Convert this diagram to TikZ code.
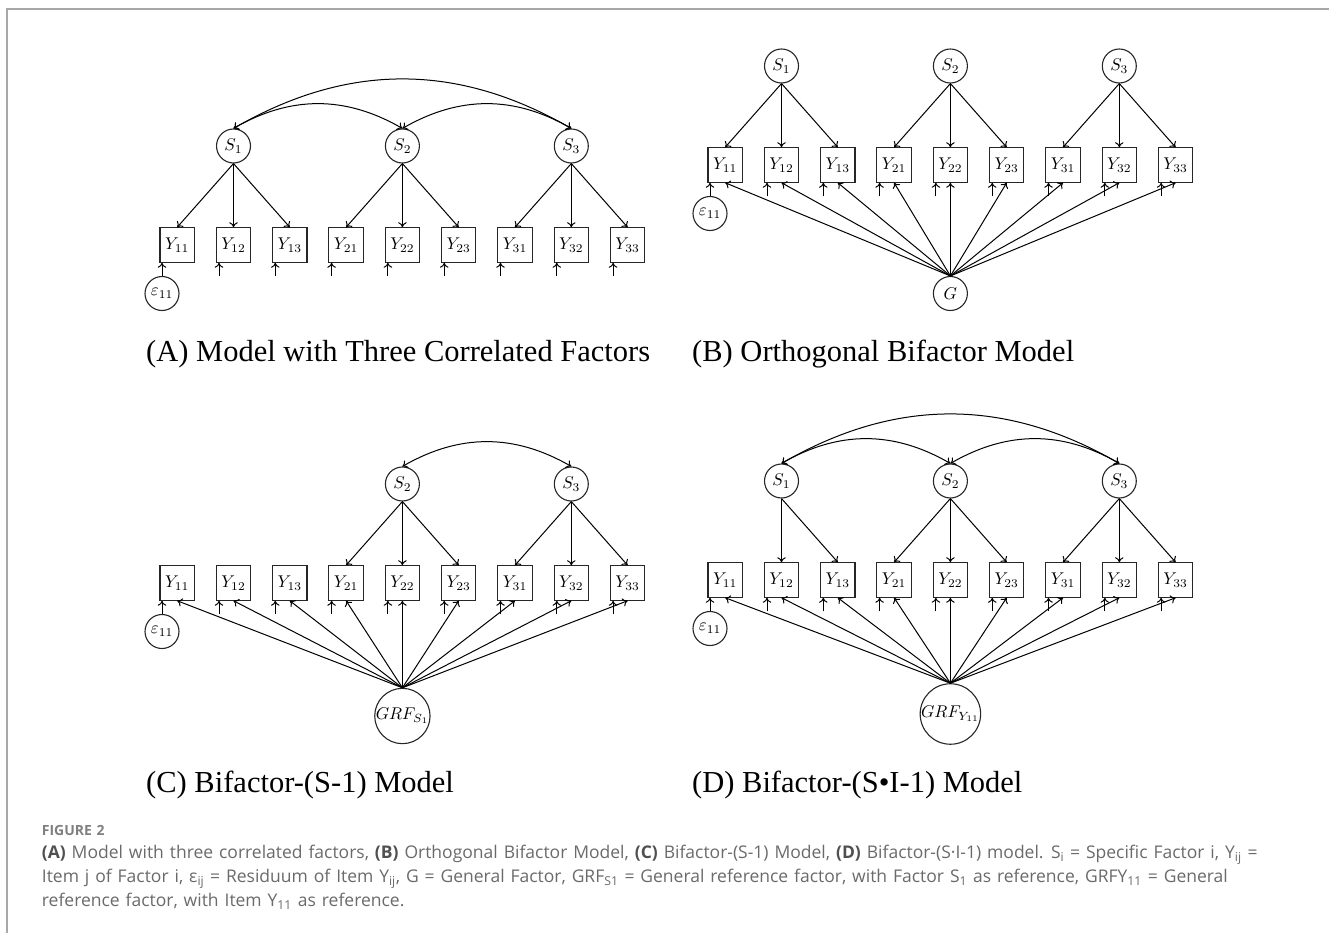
\documentclass[tikz,border=0pt]{standalone}
\usepackage{fontspec}
\newfontfamily\titlefont{Liberation Serif}
\newfontfamily\capfont[WordSpace=1.3]{Open Sans}
\usetikzlibrary{arrows.meta,calc}
\definecolor{capgrey}{HTML}{6A6A6A}
\definecolor{capdark}{HTML}{505050}
\definecolor{framegrey}{HTML}{A8A8A8}
\newcommand\capsb[1]{\textsubscript{#1}}
\newcommand\mlbl[1]{\scalebox{1.7}{$#1$}}
\begin{document}
\begin{tikzpicture}[x=1pt,y=-1pt,
  >={To[length=5pt,width=8.5pt]},
  obs/.style={draw=black!85, line width=1.1pt, minimum size=34.4pt, inner sep=0pt},
  lat/.style={draw=black!85, circle, line width=1.1pt, minimum size=34pt, inner sep=0pt},
  biglat/.style={lat, minimum size=52pt},
  pth/.style={->, line width=1pt},
  cor/.style={<->, line width=1pt},
  ttl/.style={anchor=base west, inner sep=0pt, font=\titlefont\fontsize{30.5}{36}\selectfont},
  capline/.style={anchor=base west, inner sep=0pt, text=capgrey, font=\capfont\fontsize{17.5}{22}\selectfont}
]
\useasboundingbox (0,0) rectangle (1329,933);
\draw[framegrey, line width=1.5pt] (7,933) -- (7,9) -- (1329,9);

% ---------- boxes, residuals for all four panels
\foreach \p/\xo/\yb in {A/177.2/245, B/725.2/165, C/177.2/583, D/725.2/580}{
  \foreach \i in {1,2,3}{
    \foreach \j in {1,2,3}{
      \pgfmathsetmacro\xx{\xo+56.3*(3*(\i-1)+\j-1)}
      \node[obs] (\p\i\j) at (\xx,\yb) {\mlbl{Y_{\i\j}}};
    }
  }
  \node[lat] (eps\p) at ($(\p11.center)+(-15.2,48.5)$) {\mlbl{\varepsilon_{11}}};
  \draw[pth] (eps\p) -- (eps\p |- \p11.south);
  \foreach \k in {12,13,21,22,23,31,32,33}{
    \coordinate (err\p\k) at ($(\p\k.south)+(-14.5,13.7)$);
    \draw[pth] (err\p\k) -- (err\p\k |- \p\k.south);
  }
}

% ---------- specific factors
\foreach \p/\ys in {A/146, B/66, D/481}{
  \node[lat] (\p S1) at (\p12.center |- 0,\ys) {\mlbl{S_1}};
  \node[lat] (\p S2) at (\p22.center |- 0,\ys) {\mlbl{S_2}};
  \node[lat] (\p S3) at (\p32.center |- 0,\ys) {\mlbl{S_3}};
}
\node[lat] (CS2) at (C22.center |- 0,484) {\mlbl{S_2}};
\node[lat] (CS3) at (C32.center |- 0,484) {\mlbl{S_3}};

% loadings on specific factors
\foreach \p in {A,B}{
  \foreach \i in {1,2,3}{
    \foreach \j in {1,2,3}{
      \draw[pth] (\p S\i.south) -- (\p\i\j.north);
    }
  }
}
\foreach \i in {2,3}{
  \foreach \j in {1,2,3}{
    \draw[pth] (CS\i.south) -- (C\i\j.north);
    \draw[pth] (DS\i.south) -- (D\i\j.north);
  }
}
\draw[pth] (DS1.south) -- (D12.north);
\draw[pth] (DS1.south) -- (D13.north);

% correlations
\foreach \p in {A,D}{
  \draw[cor] (\p S1.north) to[bend left=30] (\p S2.north);
  \draw[cor] (\p S2.north) to[bend left=30] (\p S3.north);
  \draw[cor] (\p S1.north) to[bend left=30] (\p S3.north);
}
\draw[cor] (CS2.north) to[bend left=30] (CS3.north);

% ---------- general factors
\node[lat] (BG) at (B22.center |- 0,293.5) {\mlbl{G}};
\node[biglat] (CG) at (C22.center |- 0,716) {\mlbl{GRF_{S_1}}};
\node[biglat] (DG) at (D22.center |- 0,714) {\mlbl{GRF_{Y_{11}}}};
\foreach \p in {B,C,D}{
  \foreach \k in {11,12,13,21,22,23,31,32,33}{
    \draw[pth] (\p G.north) -- (\p\k.south);
  }
}

% ---------- panel titles
\node[ttl] (tA) at (146,361) {(A) Model with Three Correlated Factors};
\node[ttl] (tB) at (692,361) {(B) Orthogonal Bifactor Model};
\node[ttl] (tC) at (146,792) {(C) Bifactor-(S-1) Model};
\node[ttl] (tD) at (692,792) {(D) Bifactor-(S•I-1) Model};

% ---------- caption
\node[capline, font=\capfont\bfseries\fontsize{14}{17}\selectfont, text=capgrey!85] (fig) at (41.7,835) {FIGURE 2};
\node[capline] (c1) at (41.7,858.5) {\textcolor{capdark}{\textbf{(A)}} Model with three correlated factors, \textcolor{capdark}{\textbf{(B)}} Orthogonal Bifactor Model, \textcolor{capdark}{\textbf{(C)}} Bifactor-(S-1) Model, \textcolor{capdark}{\textbf{(D)}} Bifactor-(S·I-1) model. S\capsb{i} = Specific Factor i, Y\capsb{ij} =};
\node[capline] (c2) at (41.7,882.5) {Item j of Factor i, ε\capsb{ij} = Residuum of Item Y\capsb{ij}, G = General Factor, GRF\capsb{S1} = General reference factor, with Factor S\capsb{1} as reference, GRFY\capsb{11} = General};
\node[capline] (c3) at (41.7,906.5) {reference factor, with Item Y\capsb{11} as reference.};
\end{tikzpicture}
\end{document}
